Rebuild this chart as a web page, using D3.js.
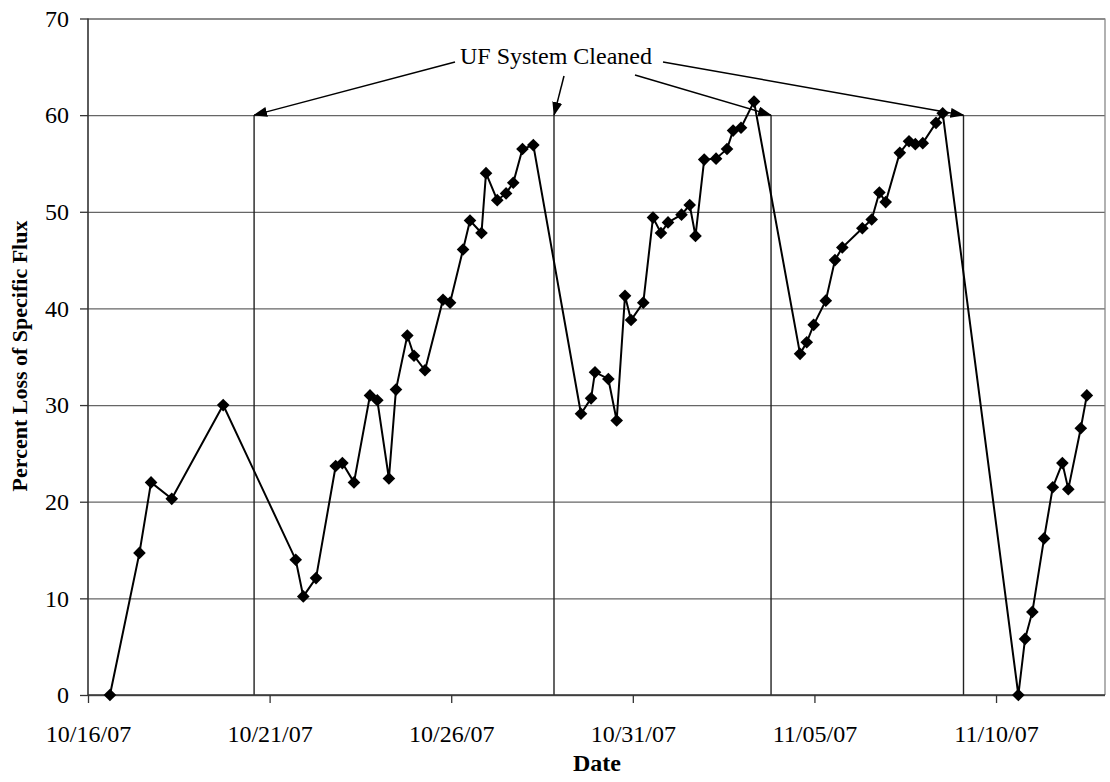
<!DOCTYPE html>
<html>
<head>
<meta charset="utf-8">
<script src="https://cdn.jsdelivr.net/npm/d3@7"></script>
<style>
  body { margin: 0; background: #fff; }
  svg { display: block; font-family: "Liberation Serif", "Times New Roman", serif; }
</style>
</head>
<body>
<svg id="chart" width="1110" height="782"></svg>
<script>
// sample times
const sampleTimes = [
  "10/16/07 14:30", "10/17/07 10:00", "10/17/07 17:40", "10/18/07 07:20", "10/19/07 17:20",
  "10/21/07 17:15", "10/21/07 22:15", "10/22/07 06:40", "10/22/07 19:40", "10/23/07 00:05",
  "10/23/07 07:45", "10/23/07 18:20", "10/23/07 23:10", "10/24/07 06:50", "10/24/07 11:30",
  "10/24/07 19:00", "10/24/07 23:25", "10/25/07 06:40", "10/25/07 18:35", "10/25/07 23:15",
  "10/26/07 07:50", "10/26/07 12:25", "10/26/07 20:00", "10/26/07 23:00", "10/27/07 06:25",
  "10/27/07 12:15", "10/27/07 17:00", "10/27/07 23:05", "10/28/07 06:15",
  "10/29/07 13:45", "10/29/07 20:25", "10/29/07 23:00", "10/30/07 07:50", "10/30/07 13:20",
  "10/30/07 18:50", "10/30/07 22:50", "10/31/07 06:55", "10/31/07 13:20", "10/31/07 18:35",
  "10/31/07 23:15", "11/01/07 08:10", "11/01/07 13:35", "11/01/07 17:25", "11/01/07 23:10",
  "11/02/07 07:00", "11/02/07 14:15", "11/02/07 18:15", "11/02/07 23:30", "11/03/07 08:05",
  "11/04/07 14:30", "11/04/07 18:55", "11/04/07 23:30", "11/05/07 07:30", "11/05/07 13:35",
  "11/05/07 18:25", "11/06/07 07:40", "11/06/07 13:50", "11/06/07 18:55", "11/06/07 23:05",
  "11/07/07 08:25", "11/07/07 14:30", "11/07/07 18:40", "11/07/07 23:35", "11/08/07 08:20",
  "11/08/07 12:45",
  "11/10/07 14:45", "11/10/07 19:10", "11/11/07 00:00", "11/11/07 07:45", "11/11/07 13:30",
  "11/11/07 19:50", "11/11/07 23:45", "11/12/07 08:00", "11/12/07 12:00"
];

// percent loss of specific flux
const fluxLoss = [
  0, 14.7, 22.0, 20.3, 30.0,
  14.0, 10.2, 12.1, 23.7, 24.0,
  22.0, 31.0, 30.5, 22.4, 31.6,
  37.2, 35.1, 33.6, 40.9, 40.6,
  46.1, 49.1, 47.8, 54.0, 51.2,
  51.9, 53.0, 56.5, 56.9,
  29.1, 30.7, 33.4, 32.7, 28.4,
  41.3, 38.8, 40.6, 49.4, 47.8,
  48.9, 49.7, 50.7, 47.5, 55.4,
  55.5, 56.5, 58.4, 58.7, 61.4,
  35.3, 36.5, 38.3, 40.8, 45.0,
  46.3, 48.3, 49.2, 52.0, 51.0,
  56.1, 57.3, 57.0, 57.1, 59.2,
  60.2,
  0, 5.8, 8.6, 16.2, 21.5,
  24.0, 21.3, 27.6, 31.0
];

// times the UF system was cleaned
const cleanTimes = ["10/20/07 13:45", "10/28/07 19:55", "11/03/07 19:20", "11/09/07 02:30"];
const cleanLevel = 60;

const xDomain = ["10/16/07 00:00", "11/13/07 00:00"];
const xTicks = ["10/16/07 00:00", "10/21/07 00:00", "10/26/07 00:00", "10/31/07 00:00", "11/05/07 00:00", "11/10/07 00:00"];
const yTicks = [0, 10, 20, 30, 40, 50, 60, 70];

const parse = d3.utcParse("%m/%d/%y %H:%M");
const data = sampleTimes.map((t, i) => ({ date: parse(t), value: fluxLoss[i] }));

const margin = { top: 18.5, right: 5, bottom: 87, left: 88 };
const width = 1110 - margin.left - margin.right;
const height = 782 - margin.top - margin.bottom;

const svg = d3.select("#chart");
const g = svg.append("g").attr("transform", `translate(${margin.left},${margin.top})`);

const x = d3.scaleUtc().domain(xDomain.map(parse)).range([0, width]);
const y = d3.scaleLinear().domain([0, 70]).range([height, 0]);

// horizontal gridlines
g.append("g")
  .attr("class", "grid")
  .call(d3.axisLeft(y).tickValues(yTicks).tickSize(-width).tickFormat(""))
  .call(s => s.select(".domain").remove())
  .call(s => s.selectAll("line").attr("stroke", "#666").attr("stroke-width", 1.3));

// plot area right border
g.append("line")
  .attr("x1", width).attr("x2", width).attr("y1", 0).attr("y2", height)
  .attr("stroke", "#888").attr("stroke-width", 1.3);

// cleaning lines
g.append("g").selectAll("line")
  .data(cleanTimes)
  .join("line")
  .attr("x1", d => x(parse(d))).attr("x2", d => x(parse(d)))
  .attr("y1", y(cleanLevel)).attr("y2", y(0))
  .attr("stroke", "#222").attr("stroke-width", 1.4);

// axes
const xAxis = g.append("g")
  .attr("transform", `translate(0,${height})`)
  .call(d3.axisBottom(x).tickValues(xTicks.map(parse)).tickSize(8).tickPadding(22)
    .tickFormat(d3.utcFormat("%m/%d/%y")));
xAxis.select(".domain").attr("stroke", "#333").attr("stroke-width", 1.6).attr("d", `M0,0H${width}`);
xAxis.selectAll("line").attr("stroke", "#333").attr("stroke-width", 1.3);
xAxis.selectAll("text").attr("font-size", 24).attr("fill", "#000").attr("font-family", "Liberation Serif");

const yAxis = g.append("g")
  .call(d3.axisLeft(y).tickValues(yTicks).tickSize(8).tickPadding(11));
yAxis.select(".domain").attr("stroke", "#333").attr("stroke-width", 1.6).attr("d", `M0,0V${height}`);
yAxis.selectAll("line").attr("stroke", "#333").attr("stroke-width", 1.3);
yAxis.selectAll("text").attr("font-size", 24).attr("fill", "#000").attr("font-family", "Liberation Serif");

// data line
const line = d3.line().x(d => x(d.date)).y(d => y(d.value));
g.append("path")
  .datum(data)
  .attr("fill", "none")
  .attr("stroke", "#000")
  .attr("stroke-width", 2)
  .attr("d", line);

// diamond markers
const diamond = d3.symbol().type(d3.symbolSquare).size(80);
g.append("g").selectAll("path")
  .data(data)
  .join("path")
  .attr("d", diamond)
  .attr("transform", d => `translate(${x(d.date)},${y(d.value)}) rotate(45)`)
  .attr("fill", "#000");

// annotation
svg.append("defs").append("marker")
  .attr("id", "arrow")
  .attr("markerUnits", "userSpaceOnUse")
  .attr("markerWidth", 14).attr("markerHeight", 10)
  .attr("refX", 13).attr("refY", 5)
  .attr("orient", "auto")
  .append("path")
  .attr("d", "M0,0L14,5L0,10Z")
  .attr("fill", "#000");

const noteX = 556 - margin.left, noteY = 64 - margin.top;
g.append("text")
  .attr("x", noteX).attr("y", noteY)
  .attr("text-anchor", "middle")
  .attr("font-size", 24)
  .text("UF System Cleaned");

const arrowStarts = [[-101, -2], [8, 12], [79, 11], [107, -2]];
g.append("g").selectAll("line")
  .data(cleanTimes)
  .join("line")
  .attr("x1", (d, i) => noteX + arrowStarts[i][0])
  .attr("y1", (d, i) => noteY + arrowStarts[i][1])
  .attr("x2", d => x(parse(d)))
  .attr("y2", y(cleanLevel))
  .attr("stroke", "#000").attr("stroke-width", 1.5)
  .attr("marker-end", "url(#arrow)");

// axis titles
svg.append("text")
  .attr("x", 597).attr("y", 771)
  .attr("text-anchor", "middle")
  .attr("font-size", 24).attr("font-weight", "bold")
  .text("Date");

svg.append("text")
  .attr("transform", "translate(27,356) rotate(-90)")
  .attr("text-anchor", "middle")
  .attr("font-size", 22).attr("font-weight", "bold")
  .text("Percent Loss of Specific Flux");
</script>
</body>
</html>
